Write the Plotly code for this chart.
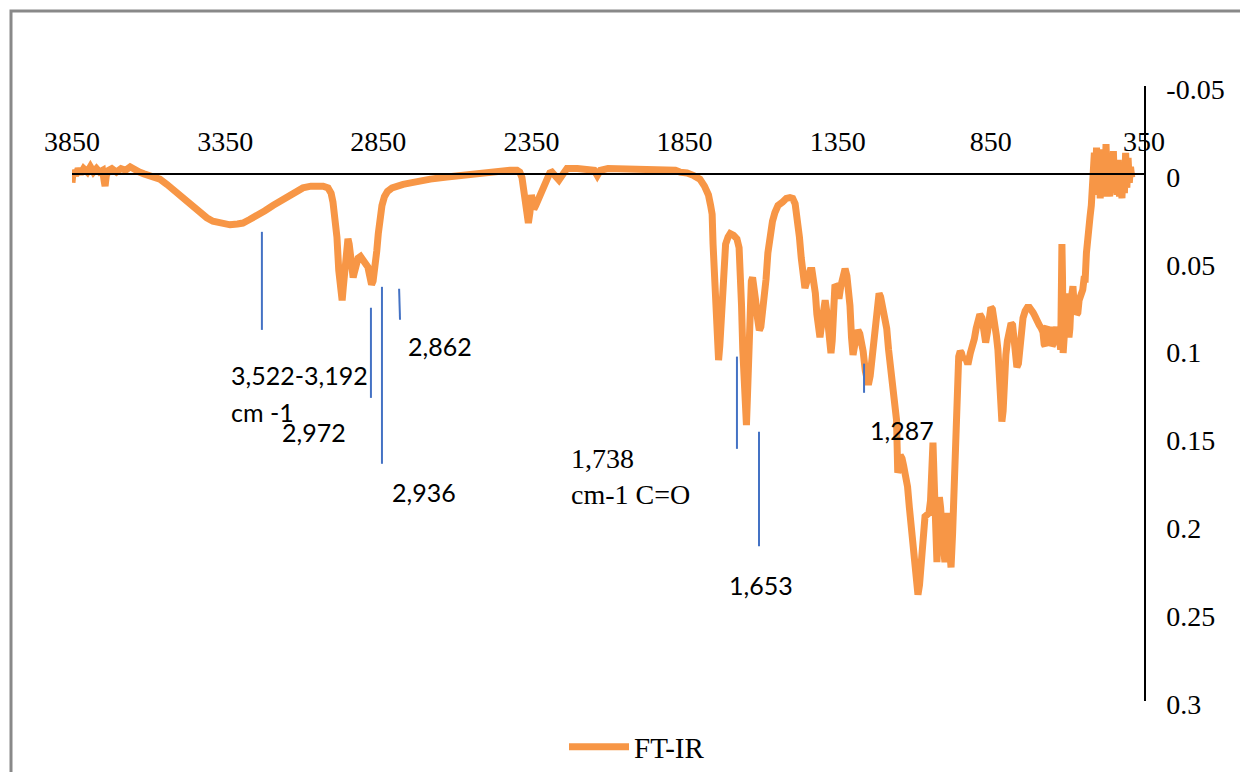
import plotly.graph_objects as go

# ---------------- data ----------------
wavenumber = [
    3850, 3846, 3838, 3830, 3822, 3812, 3800, 3790, 3780, 3770, 3760, 3750, 3745, 3742, 3738, 3730,
    3720, 3705, 3690, 3675, 3660, 3645, 3630, 3615, 3600, 3580, 3563, 3540, 3520, 3500, 3475, 3450,
    3432, 3410, 3390, 3360, 3334, 3310, 3292, 3270, 3246, 3220, 3194, 3165, 3138, 3110, 3096, 3070,
    3050, 3030, 3014, 3004, 2998, 2990, 2985, 2979, 2975, 2971, 2968, 2964, 2958, 2953, 2949, 2945,
    2940, 2935, 2932, 2928, 2922, 2916, 2908, 2900, 2892, 2884, 2878, 2872, 2867, 2861, 2855, 2850,
    2844, 2838, 2830, 2820, 2805, 2785, 2769, 2740, 2714, 2680, 2626, 2570, 2518, 2460, 2420, 2397,
    2388, 2381, 2376, 2370, 2364, 2360, 2355, 2350, 2346, 2342, 2336, 2329, 2315, 2299, 2290, 2283,
    2270, 2260, 2250, 2240, 2234, 2200, 2169, 2145, 2135, 2125, 2100, 2084, 2000, 1920, 1880, 1865,
    1842, 1820, 1800, 1785, 1772, 1765, 1760, 1757, 1753, 1750, 1746, 1742, 1739, 1735, 1730, 1726,
    1722, 1716, 1708, 1701, 1690, 1679, 1672, 1668, 1664, 1660, 1655, 1651, 1648, 1645, 1641, 1636,
    1632, 1628, 1623, 1618, 1612, 1606, 1601, 1595, 1590, 1584, 1578, 1570, 1563, 1555, 1545, 1530,
    1518, 1506, 1497, 1489, 1482, 1475, 1469, 1462, 1457, 1452, 1447, 1440, 1434, 1428, 1423, 1418,
    1413, 1408, 1402, 1396, 1391, 1386, 1382, 1376, 1372, 1368, 1364, 1359, 1354, 1350, 1346, 1340,
    1333, 1326, 1320, 1315, 1310, 1305, 1300, 1295, 1290, 1284, 1278, 1272, 1267, 1260, 1254, 1250,
    1244, 1238, 1232, 1226, 1220, 1215, 1210, 1205, 1199, 1195, 1190, 1184, 1178, 1172, 1166, 1162,
    1158, 1156, 1154, 1150, 1146, 1140, 1135, 1128, 1122, 1116, 1110, 1104, 1098, 1093, 1088, 1083,
    1078, 1074, 1070, 1065, 1058, 1052, 1047, 1043, 1039, 1035, 1030, 1026, 1022, 1018, 1014, 1009,
    1005, 1000, 996, 993, 988, 984, 980, 975, 970, 965, 960, 955, 950, 946, 940, 934,
    928, 923, 917, 910, 904, 898, 892, 886, 879, 873, 867, 861, 855, 850, 845, 838,
    832, 827, 822, 818, 814, 810, 806, 801, 796, 790, 784, 779, 774, 769, 765, 760,
    756, 750, 745, 738, 731, 724, 718, 712, 706, 700, 692, 685, 680, 676, 673, 670,
    666, 662, 658, 654, 650, 647, 643, 639, 635, 631, 627, 622, 620, 618, 616, 614,
    611, 608, 605, 601, 598, 595, 592, 588, 585, 582, 578, 574, 570, 566, 562, 558,
    555, 550, 546, 542, 538, 535, 530, 526, 522, 518, 516, 512, 509, 505, 501, 497,
    493, 489, 486, 482, 478, 474, 470, 466, 462, 458, 454, 450, 446, 442, 438, 434,
    430, 426, 422, 418, 414, 410, 406, 402, 398, 394, 390,
]
absorbance = [
    0.005, -0.002, 0.001, -0.003, 0.000, -0.003, -0.001, -0.004, -0.001, -0.003, -0.001, -0.002, 0.004, 0.007, 0.001, -0.002,
    -0.003, -0.001, -0.003, -0.002, -0.004, -0.002, -0.001, 0.000, 0.001, 0.002, 0.003, 0.006, 0.009, 0.012, 0.016, 0.020,
    0.022, 0.025, 0.027, 0.0285, 0.029, 0.0285, 0.028, 0.026, 0.024, 0.021, 0.018, 0.015, 0.012, 0.0095, 0.008, 0.007,
    0.0065, 0.007, 0.008, 0.011, 0.016, 0.026, 0.036, 0.055, 0.066, 0.071, 0.072, 0.064, 0.048, 0.040, 0.037, 0.040,
    0.047, 0.057, 0.059, 0.056, 0.051, 0.048, 0.047, 0.049, 0.050, 0.053, 0.058, 0.063, 0.061, 0.055, 0.044, 0.034,
    0.025, 0.018, 0.013, 0.010, 0.008, 0.0065, 0.006, 0.005, 0.004, 0.003, 0.0018, 0.0005, -0.0005, -0.0015, -0.002, -0.002,
    -0.001, 0.002, 0.010, 0.020, 0.026, 0.028, 0.022, 0.012, 0.016, 0.020, 0.018, 0.015, 0.008, 0.002, -0.0005, -0.001,
    0.001, 0.0035, 0.001, -0.002, -0.003, -0.003, -0.003, -0.002, 0.001, -0.002, -0.003, -0.003, -0.003, -0.003, -0.002, -0.001,
    -0.0005, 0.001, 0.003, 0.007, 0.012, 0.018, 0.023, 0.040, 0.060, 0.075, 0.095, 0.104, 0.106, 0.098, 0.078, 0.062,
    0.050, 0.040, 0.036, 0.034, 0.035, 0.037, 0.042, 0.052, 0.075, 0.100, 0.125, 0.140, 0.143, 0.128, 0.100, 0.075,
    0.061, 0.059, 0.064, 0.072, 0.082, 0.089, 0.087, 0.079, 0.072, 0.060, 0.045, 0.034, 0.027, 0.022, 0.018, 0.016,
    0.014, 0.0135, 0.014, 0.017, 0.024, 0.036, 0.048, 0.060, 0.065, 0.062, 0.058, 0.055, 0.055, 0.060, 0.068, 0.080,
    0.090, 0.093, 0.085, 0.075, 0.072, 0.078, 0.087, 0.098, 0.102, 0.095, 0.075, 0.063, 0.064, 0.070, 0.071, 0.064,
    0.056, 0.054, 0.058, 0.066, 0.075, 0.093, 0.103, 0.098, 0.091, 0.089, 0.091, 0.096, 0.101, 0.112, 0.119, 0.120,
    0.115, 0.105, 0.092, 0.080, 0.071, 0.068, 0.070, 0.074, 0.079, 0.082, 0.088, 0.100, 0.110, 0.117, 0.121, 0.130,
    0.140, 0.155, 0.170, 0.168, 0.160, 0.162, 0.166, 0.172, 0.178, 0.190, 0.202, 0.212, 0.224, 0.234, 0.2395, 0.234,
    0.224, 0.212, 0.200, 0.195, 0.194, 0.193, 0.186, 0.165, 0.153, 0.175, 0.205, 0.221, 0.200, 0.184, 0.190, 0.205,
    0.215, 0.221, 0.205, 0.193, 0.205, 0.220, 0.224, 0.205, 0.180, 0.150, 0.120, 0.104, 0.101, 0.102, 0.106, 0.104,
    0.107, 0.107, 0.102, 0.099, 0.094, 0.088, 0.083, 0.080, 0.082, 0.090, 0.096, 0.090, 0.080, 0.076, 0.077, 0.083,
    0.092, 0.100, 0.115, 0.130, 0.141, 0.135, 0.115, 0.103, 0.095, 0.088, 0.085, 0.086, 0.094, 0.105, 0.110, 0.108,
    0.098, 0.088, 0.082, 0.078, 0.076, 0.076, 0.077, 0.079, 0.081, 0.084, 0.086, 0.088, 0.090, 0.097, 0.098, 0.088,
    0.087, 0.097, 0.088, 0.087, 0.098, 0.097, 0.088, 0.091, 0.087, 0.096, 0.093, 0.100, 0.060, 0.040, 0.060, 0.102,
    0.090, 0.078, 0.085, 0.068, 0.082, 0.093, 0.088, 0.072, 0.066, 0.064, 0.075, 0.070, 0.080, 0.079, 0.072, 0.070,
    0.066, 0.066, 0.060, 0.060, 0.045, 0.036, 0.030, 0.024, 0.018, 0.010, 0.0, -0.012, 0.010, -0.015, 0.012, -0.010,
    0.014, -0.014, 0.012, -0.008, 0.013, -0.017, 0.006, -0.012, 0.013, -0.010, 0.011, -0.013, 0.008, -0.006, 0.012, -0.008,
    0.013, -0.005, 0.014, -0.006, 0.011, -0.012, 0.008, -0.009, 0.005, -0.004, 0.002,
]

x_ticks = [3850, 3350, 2850, 2350, 1850, 1350, 850, 350]
y_ticks = [-0.05, 0, 0.05, 0.1, 0.15, 0.2, 0.25, 0.3]
y_tick_labels = ["-0.05", "0", "0.05", "0.1", "0.15", "0.2", "0.25", "0.3"]

# peak marker lines (wavenumber top/bottom, absorbance top/bottom)
marker_wn_top = [3230, 2874, 2838, 2782, 1679, 1607, 1264]
marker_wn_bottom = [3230, 2874, 2838, 2779, 1679, 1607, 1264]
marker_y_top = [0.033, 0.0762, 0.0643, 0.0654, 0.104, 0.1468, 0.108]
marker_y_bottom = [0.0888, 0.1275, 0.165, 0.083, 0.1565, 0.212, 0.1246]

# peak labels
label_text = ["3,522-3,192", "cm -1", "2,972", "2,862", "2,936", "1,653", "1,287"]
label_wn = [3337, 3337, 3171, 2760, 2812, 1711, 1252]
label_y = [0.1144, 0.1354, 0.1468, 0.0979, 0.181, 0.234, 0.1457]
serif_label_text = "1,738<br>cm-1 C=O"
serif_label_wn = 2227
serif_label_y = 0.1725

ORANGE = "#F79646"
BLUE = "#4472C4"
SERIF = "Liberation Serif, Times New Roman, serif"
SANS = "Lato, Carlito, Calibri, sans-serif"

fig = go.Figure()
fig.add_trace(go.Scatter(
    x=wavenumber, y=absorbance, mode="lines", name="FT-IR",
    line=dict(color=ORANGE, width=7),
))

mx, my = [], []
for a, b, c, d in zip(marker_wn_top, marker_wn_bottom, marker_y_top, marker_y_bottom):
    mx += [a, b, None]
    my += [c, d, None]
fig.add_trace(go.Scatter(x=mx, y=my, mode="lines", showlegend=False,
                         line=dict(color=BLUE, width=2), hoverinfo="skip"))

for t, xw, yv in zip(label_text, label_wn, label_y):
    fig.add_annotation(x=xw, y=yv, text=t, showarrow=False, xanchor="left", yanchor="middle",
                       font=dict(family=SANS, size=25, color="black"))
fig.add_annotation(x=serif_label_wn, y=serif_label_y, text=serif_label_text, showarrow=False,
                   xanchor="left", yanchor="middle", align="left",
                   font=dict(family=SERIF, size=28, color="black"))

# page body has an 8px margin: the figure is laid out in its own coordinates
OFF = 8
W, H = 1248 - OFF, 772 - OFF
L, T = 72 - OFF, 86 - OFF
R = W - (1144 - OFF)
B = H - (701 - OFF)
pw = W - L - R
ph = H - T - B
zero_pos = (0.3 - 0) / 0.35

fig.update_layout(
    width=W, height=H,
    margin=dict(l=L, r=R, t=T, b=B, pad=0, autoexpand=False),
    paper_bgcolor="white", plot_bgcolor="white",
    font=dict(family=SERIF, size=28, color="black"),
    xaxis=dict(
        range=[3850, 350], tickvals=x_ticks, ticktext=[str(v) for v in x_ticks],
        anchor="free", position=zero_pos, side="top", automargin=False,
        showline=True, linecolor="black", linewidth=1.5,
        showgrid=False, zeroline=False, ticks="", ticklabelstandoff=11,
        tickfont=dict(family=SERIF, size=28, color="black"),
    ),
    yaxis=dict(
        range=[0.3, -0.05], tickvals=y_ticks, ticktext=y_tick_labels,
        side="right", showline=True, linecolor="black", linewidth=1.5, automargin=False,
        showgrid=False, zeroline=False, ticks="", ticklabelstandoff=15, ticklabelshift=-3,
        tickfont=dict(family=SERIF, size=28, color="black"),
    ),
    showlegend=True,
    legend=dict(orientation="h", x=(564 - 72) / pw, xanchor="left",
                y=(701 - 747) / ph, yanchor="middle", itemwidth=60,
                font=dict(family=SERIF, size=29, color="black"),
                bgcolor="rgba(0,0,0,0)"),
    shapes=[dict(type="rect", xref="paper", yref="paper",
                 x0=(11 - 72) / pw, x1=(1270 - 72) / pw,
                 y0=(701 - 800) / ph, y1=(701 - 11) / ph,
                 line=dict(color="#898989", width=3), fillcolor="rgba(0,0,0,0)", layer="below")],
)

fig.write_html("out.html")
